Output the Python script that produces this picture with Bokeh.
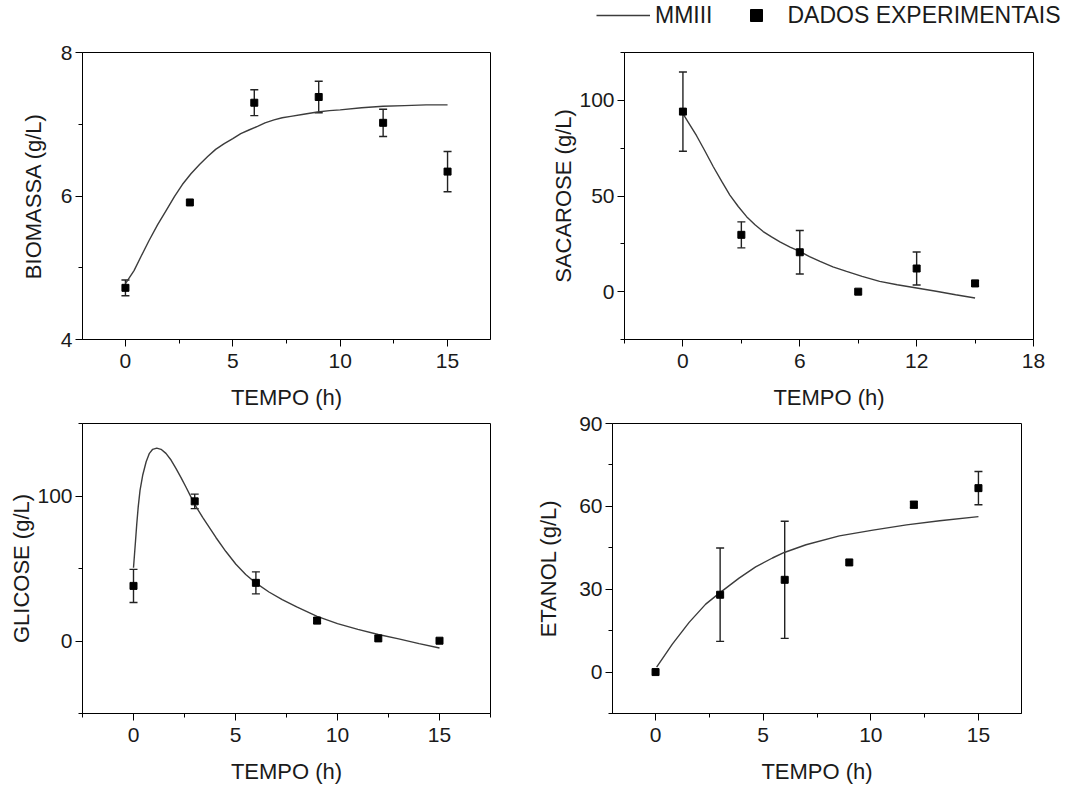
from bokeh.plotting import figure
from bokeh.models import (ColumnDataSource, Whisker, TeeHead, FixedTicker,
                          Legend, LegendItem, Range1d)
from bokeh.layouts import column, row
from bokeh.embed import file_html
from bokeh.resources import INLINE

FONT = "Liberation Sans"

# ---------------- data ----------------
time_h = [0, 3, 6, 9, 12, 15]

biomassa = [4.72, 5.91, 7.30, 7.38, 7.02, 6.34]
biomassa_err = [0.11, 0.0, 0.18, 0.22, 0.19, 0.28]
model_bio_t = [0, 0.4, 0.73, 1.1, 1.5, 1.9, 2.28, 2.65, 3.05, 3.45, 3.83, 4.2,
               4.6, 5.0, 5.37, 5.75, 6.15, 6.5, 6.92, 7.3, 7.7, 8.3, 8.94, 9.5,
               10, 11, 12, 13, 14, 15]
model_bio_y = [4.78, 4.96, 5.16, 5.38, 5.60, 5.80, 5.99, 6.16, 6.31, 6.44, 6.55,
               6.65, 6.73, 6.80, 6.87, 6.92, 6.97, 7.02, 7.06, 7.09, 7.11, 7.14,
               7.17, 7.19, 7.20, 7.23, 7.25, 7.26, 7.27, 7.27]

sacarose = [94.1, 29.7, 20.6, 0.0, 12.1, 4.3]
sacarose_err = [20.7, 6.8, 11.4, 0.0, 8.6, 1.5]
model_sac_t = [0, 0.26, 0.7, 1.13, 1.56, 2.0, 2.41, 2.84, 3.27, 3.7, 4.12, 4.55,
               4.98, 5.5, 6.0, 6.5, 7.04, 7.7, 8.4, 9.2, 10.1, 11, 12, 13, 14, 15]
model_sac_y = [93.0, 88.7, 81.5, 73.5, 65.3, 57.5, 50.5, 44.5, 39.2, 35.0, 31.4,
               28.6, 26.0, 23.3, 21.0, 18.3, 15.8, 13.0, 10.6, 8.0, 5.4, 3.6,
               1.9, 0.2, -1.6, -3.3]

glicose = [38.0, 96.3, 40.1, 14.1, 1.8, 0.2]
glicose_err = [11.4, 5.0, 7.6, 2.0, 0.0, 0.0]
model_gli_t = [0, 0.05, 0.10, 0.16, 0.23, 0.32, 0.45, 0.62, 0.78, 0.94, 1.14,
               1.35, 1.59, 1.84, 2.08, 2.33, 2.57, 2.82, 2.98, 3.39, 4.04, 4.53,
               5.02, 5.5, 5.99, 6.64, 7.29, 8, 9, 10, 11, 12, 13, 14, 15]
model_gli_y = [50.5, 59.8, 69.1, 80.7, 92.3, 103.9, 114.3, 123.6, 129.4, 132.2,
               133.0, 132.2, 129.4, 124.8, 119.0, 112.7, 106.2, 99.2, 94.6, 85.3,
               71.4, 61.7, 52.9, 45.9, 40.1, 33.8, 28.5, 23.5, 17.0, 12.0, 8.0,
               4.5, 1.5, -1.8, -4.8]

etanol = [0.0, 28.0, 33.4, 39.7, 60.6, 66.6]
etanol_err = [0.0, 16.9, 21.2, 0.0, 1.2, 6.0]
model_eta_t = [0.05, 0.78, 1.56, 2.33, 2.95, 3.88, 4.65, 5.43, 5.98, 6.99, 8.54,
               10.1, 11.66, 13.2, 15]
model_eta_y = [1.8, 10.1, 18.0, 24.6, 28.5, 34.0, 38.1, 41.3, 43.3, 46.1, 49.3,
               51.4, 53.3, 54.8, 56.3]

x_label = "TEMPO (h)"
legend_labels = ["MMIII", "DADOS EXPERIMENTAIS"]

# ticks
bio_xticks, bio_xminor = [0, 5, 10, 15], [2.5, 7.5, 12.5]
bio_yticks, bio_yminor = [4, 6, 8], [5, 7]
sac_xticks, sac_xminor = [0, 6, 12, 18], [-3, 3, 9, 15]
sac_yticks, sac_yminor = [0, 50, 100], [-25, 25, 75, 125]
gli_xticks, gli_xminor = [0, 5, 10, 15], [-2.5, 2.5, 7.5, 12.5, 17.5]
gli_yticks, gli_yminor = [0, 100], [-50, 50, 150]
eta_xticks, eta_xminor = [0, 5, 10, 15], [2.5, 7.5, 12.5]
eta_yticks, eta_yminor = [0, 30, 60, 90], [-15, 15, 45, 75]

LINE_C = "#3c3c3c"
BAR_C = "#222222"


def panel(width, height, borders, xr, yr, xt, xm, yt, ym, ylabel, ystand,
          t, y, err, mt, my):
    top, right, bottom, left = borders
    p = figure(width=width, height=height, output_backend="svg",
               toolbar_location=None, x_range=Range1d(*xr), y_range=Range1d(*yr),
               min_border_top=top, min_border_right=right,
               min_border_bottom=bottom, min_border_left=left)
    p.xgrid.visible = False
    p.ygrid.visible = False
    p.outline_line_color = "black"
    p.outline_line_width = 1
    p.outline_line_alpha = 1
    p.background_fill_color = "white"
    p.border_fill_color = "white"

    p.xaxis.ticker = FixedTicker(ticks=xt, minor_ticks=xm)
    p.yaxis.ticker = FixedTicker(ticks=yt, minor_ticks=ym)
    for ax in (p.xaxis[0], p.yaxis[0]):
        ax.axis_line_color = "black"
        ax.axis_line_width = 1
        ax.major_tick_in = 0
        ax.major_tick_out = 7
        ax.minor_tick_in = 0
        ax.minor_tick_out = 4
        ax.major_tick_line_color = "black"
        ax.minor_tick_line_color = "black"
        ax.major_label_text_font = FONT
        ax.major_label_text_font_size = "21px"
        ax.major_label_text_color = "#1a1a1a"
        ax.axis_label_text_font = FONT
        ax.axis_label_text_font_size = "22px"
        ax.axis_label_text_font_style = "normal"
        ax.axis_label_text_color = "#1a1a1a"
    p.xaxis.axis_label = x_label
    p.xaxis.major_label_standoff = 7
    p.xaxis.axis_label_standoff = 14
    p.yaxis.axis_label = ylabel
    p.yaxis.major_label_standoff = 3
    p.yaxis.axis_label_standoff = ystand

    et = [a for a, e in zip(t, err) if e > 0]
    eu = [b + e for b, e in zip(y, err) if e > 0]
    el = [b - e for b, e in zip(y, err) if e > 0]
    esrc = ColumnDataSource(dict(t=et, upper=eu, lower=el))
    w = Whisker(base="t", upper="upper", lower="lower", source=esrc,
                dimension="height", line_color=BAR_C, line_width=1.4,
                upper_head=TeeHead(size=8, line_color=BAR_C, line_width=1.4),
                lower_head=TeeHead(size=8, line_color=BAR_C, line_width=1.4))
    p.add_layout(w)

    p.line(mt, my, line_color=LINE_C, line_width=1.4)
    p.scatter(t, y, marker="square", size=7, color="black")
    return p


p1 = panel(545, 382, (22, 55, 72, 82), (-2, 17), (4, 8),
           bio_xticks, bio_xminor, bio_yticks, bio_yminor,
           "BIOMASSA (g/L)", 12, time_h, biomassa, biomassa_err,
           model_bio_t, model_bio_y)
p2 = panel(521, 382, (21, 33, 73, 79), (-3, 18), (-25, 125),
           sac_xticks, sac_xminor, sac_yticks, sac_yminor,
           "SACAROSE (g/L)", 0, time_h, sacarose, sacarose_err,
           model_sac_t, model_sac_y)
p3 = panel(525, 374, (11, 35, 73, 82), (-2.5, 17.5), (-50, 150),
           gli_xticks, gli_xminor, gli_yticks, gli_yminor,
           "GLICOSE (g/L)", 0, time_h, glicose, glicose_err,
           model_gli_t, model_gli_y)
p4 = panel(541, 374, (11, 45, 73, 87), (-2, 17), (-15, 90),
           eta_xticks, eta_xminor, eta_yticks, eta_yminor,
           "ETANOL (g/L)", 15, time_h, etanol, etanol_err,
           model_eta_t, model_eta_y)

# legend strip across the top; its key renderers lie outside the strip's view
pl = figure(width=1066, height=30, output_backend="svg", toolbar_location=None,
            x_range=Range1d(100, 101), y_range=Range1d(1000, 1001),
            x_axis_location=None, y_axis_location=None, min_border=0)
pl.xgrid.visible = False
pl.ygrid.visible = False
pl.outline_line_color = None
key_line = pl.line(model_sac_t, model_sac_y, line_color=LINE_C, line_width=1.4)
key_mark = pl.scatter(time_h, sacarose, marker="square", size=7, color="black")
legend = Legend(items=[LegendItem(label=legend_labels[0], renderers=[key_line]),
                       LegendItem(label=legend_labels[1], renderers=[key_mark])],
                location=(596, 0), orientation="horizontal",
                glyph_width=54, glyph_height=30, label_standoff=5, spacing=16,
                padding=0, margin=0, border_line_color=None,
                background_fill_alpha=0, label_text_font=FONT,
                label_text_font_size="23px", label_text_color="#1a1a1a")
pl.add_layout(legend)

layout = column(pl, row(p1, p2), row(p3, p4))
open("out.html", "w").write(file_html(layout, INLINE))
